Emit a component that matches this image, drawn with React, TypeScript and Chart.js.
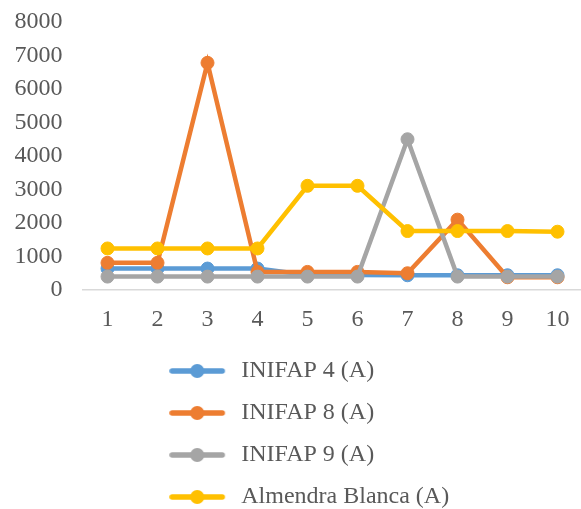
import { useEffect, useRef } from 'react';
import { Chart, registerables } from 'chart.js';

Chart.register(...registerables);

// Muestras 1–10
const categories = ['1', '2', '3', '4', '5', '6', '7', '8', '9', '10'];

const inifap4 = [640, 640, 640, 640, 450, 450, 440, 440, 440, 440];
const inifap8 = [810, 810, 6780, 540, 540, 540, 500, 2100, 380, 380];
const inifap9 = [400, 400, 400, 400, 400, 400, 4500, 400, 400, 400];
const almendraBlanca = [1240, 1240, 1240, 1240, 3110, 3110, 1760, 1760, 1760, 1740];

const seriesNames = ['INIFAP 4 (A)', 'INIFAP 8 (A)', 'INIFAP 9 (A)', 'Almendra Blanca (A)'];
const seriesColors = ['#5B9BD5', '#ED7D31', '#A5A5A5', '#FFC000'];

const yTicks = [0, 1000, 2000, 3000, 4000, 5000, 6000, 7000, 8000];

const FONT_FAMILY = "'Liberation Serif', 'Times New Roman', serif";
const TEXT_COLOR = '#595959';
const AXIS_COLOR = '#D9D9D9';

const CANVAS_W = 590;
const CANVAS_H = 519;
const Y_AXIS_WIDTH = 68;
const X_AXIS_HEIGHT = 51;
const LEGEND_ROW_WIDTH = 278;
const LEGEND_FIT_WIDTH = 400;

// Line-with-dot symbol used in the legend
function makeLegendMarker(color: string): HTMLCanvasElement {
  const c = document.createElement('canvas');
  c.width = 60;
  c.height = 16;
  const ctx = c.getContext('2d')!;
  ctx.strokeStyle = color;
  ctx.lineWidth = 5.5;
  ctx.lineCap = 'round';
  ctx.beginPath();
  ctx.moveTo(3, 8);
  ctx.lineTo(53, 8);
  ctx.stroke();
  ctx.fillStyle = color;
  ctx.beginPath();
  ctx.arc(28, 8, 7, 0, Math.PI * 2);
  ctx.fill();
  return c;
}

// Stack the legend entries one per row, all starting at the same x
const legendColumn = {
  id: 'legendColumn',
  beforeLayout(chart: any) {
    const legend = chart.legend;
    if (legend && !legend.__columnPatched) {
      const update = legend.update.bind(legend);
      legend.update = (maxWidth: number, maxHeight: number, margins: any) =>
        update(Math.min(maxWidth, LEGEND_FIT_WIDTH), maxHeight, margins);
      legend.__columnPatched = true;
    }
  },
  afterLayout(chart: any) {
    const legend = chart.legend;
    if (legend && legend.lineWidths) {
      legend.lineWidths = legend.lineWidths.map(() => LEGEND_ROW_WIDTH);
    }
  },
};

export default function App() {
  const canvasRef = useRef<HTMLCanvasElement | null>(null);

  useEffect(() => {
    if (!canvasRef.current) return;
    const markers = seriesColors.map(makeLegendMarker);
    const series = [inifap4, inifap8, inifap9, almendraBlanca];

    const chart = new Chart(canvasRef.current, {
      type: 'line',
      data: {
        labels: categories,
        datasets: series.map((values, i) => ({
          label: seriesNames[i],
          data: values,
          borderColor: seriesColors[i],
          backgroundColor: seriesColors[i],
          pointBackgroundColor: seriesColors[i],
          pointBorderColor: seriesColors[i],
          borderWidth: 4.5,
          pointRadius: 6.5,
          pointBorderWidth: 1,
          tension: 0,
          fill: false,
          order: series.length - i,
        })),
      },
      options: {
        responsive: false,
        animation: false,
        layout: { padding: { left: 14.5, top: 22, right: 6, bottom: 0 } },
        scales: {
          x: {
            offset: true,
            grid: { display: false, drawTicks: false, offset: true },
            border: { display: true, color: AXIS_COLOR, width: 1.5 },
            afterFit: (scale: any) => {
              scale.height = X_AXIS_HEIGHT;
              scale.paddingLeft = 0;
              scale.paddingRight = 0;
            },
            ticks: {
              color: TEXT_COLOR,
              padding: 9,
              autoSkip: false,
              maxRotation: 0,
              font: { family: FONT_FAMILY, size: 24, lineHeight: 1.75 },
            },
          },
          y: {
            min: yTicks[0],
            max: yTicks[yTicks.length - 1],
            grid: { display: false, drawTicks: false },
            border: { display: false },
            afterBuildTicks: (scale: any) => {
              scale.ticks = yTicks.map((value) => ({ value }));
            },
            afterFit: (scale: any) => {
              scale.width = Y_AXIS_WIDTH;
              scale.paddingTop = 0;
              scale.paddingBottom = 0;
            },
            ticks: {
              autoSkip: false,
              color: TEXT_COLOR,
              padding: 20,
              font: { family: FONT_FAMILY, size: 24, lineHeight: 1 },
              callback: (value: any) => String(value),
            },
          },
        },
        plugins: {
          tooltip: { enabled: false },
          legend: {
            position: 'bottom',
            labels: {
              usePointStyle: true,
              pointStyleWidth: 60,
              padding: 18,
              color: TEXT_COLOR,
              font: { family: FONT_FAMILY, size: 24 },
              sort: (a: any, b: any) => a.datasetIndex - b.datasetIndex,
              generateLabels: (c: any) =>
                Chart.defaults.plugins.legend.labels
                  .generateLabels(c)
                  .map((item: any) => ({ ...item, pointStyle: markers[item.datasetIndex] })),
            },
          },
        },
      },
      plugins: [legendColumn],
    });

    return () => chart.destroy();
  }, []);

  return (
    <div
      style={{
        position: 'fixed',
        left: 0,
        top: 0,
        width: 581,
        height: 509,
        overflow: 'hidden',
        background: '#fff',
      }}
    >
      <canvas
        ref={canvasRef}
        width={CANVAS_W}
        height={CANVAS_H}
        style={{ display: 'block', width: CANVAS_W, height: CANVAS_H }}
      />
    </div>
  );
}
